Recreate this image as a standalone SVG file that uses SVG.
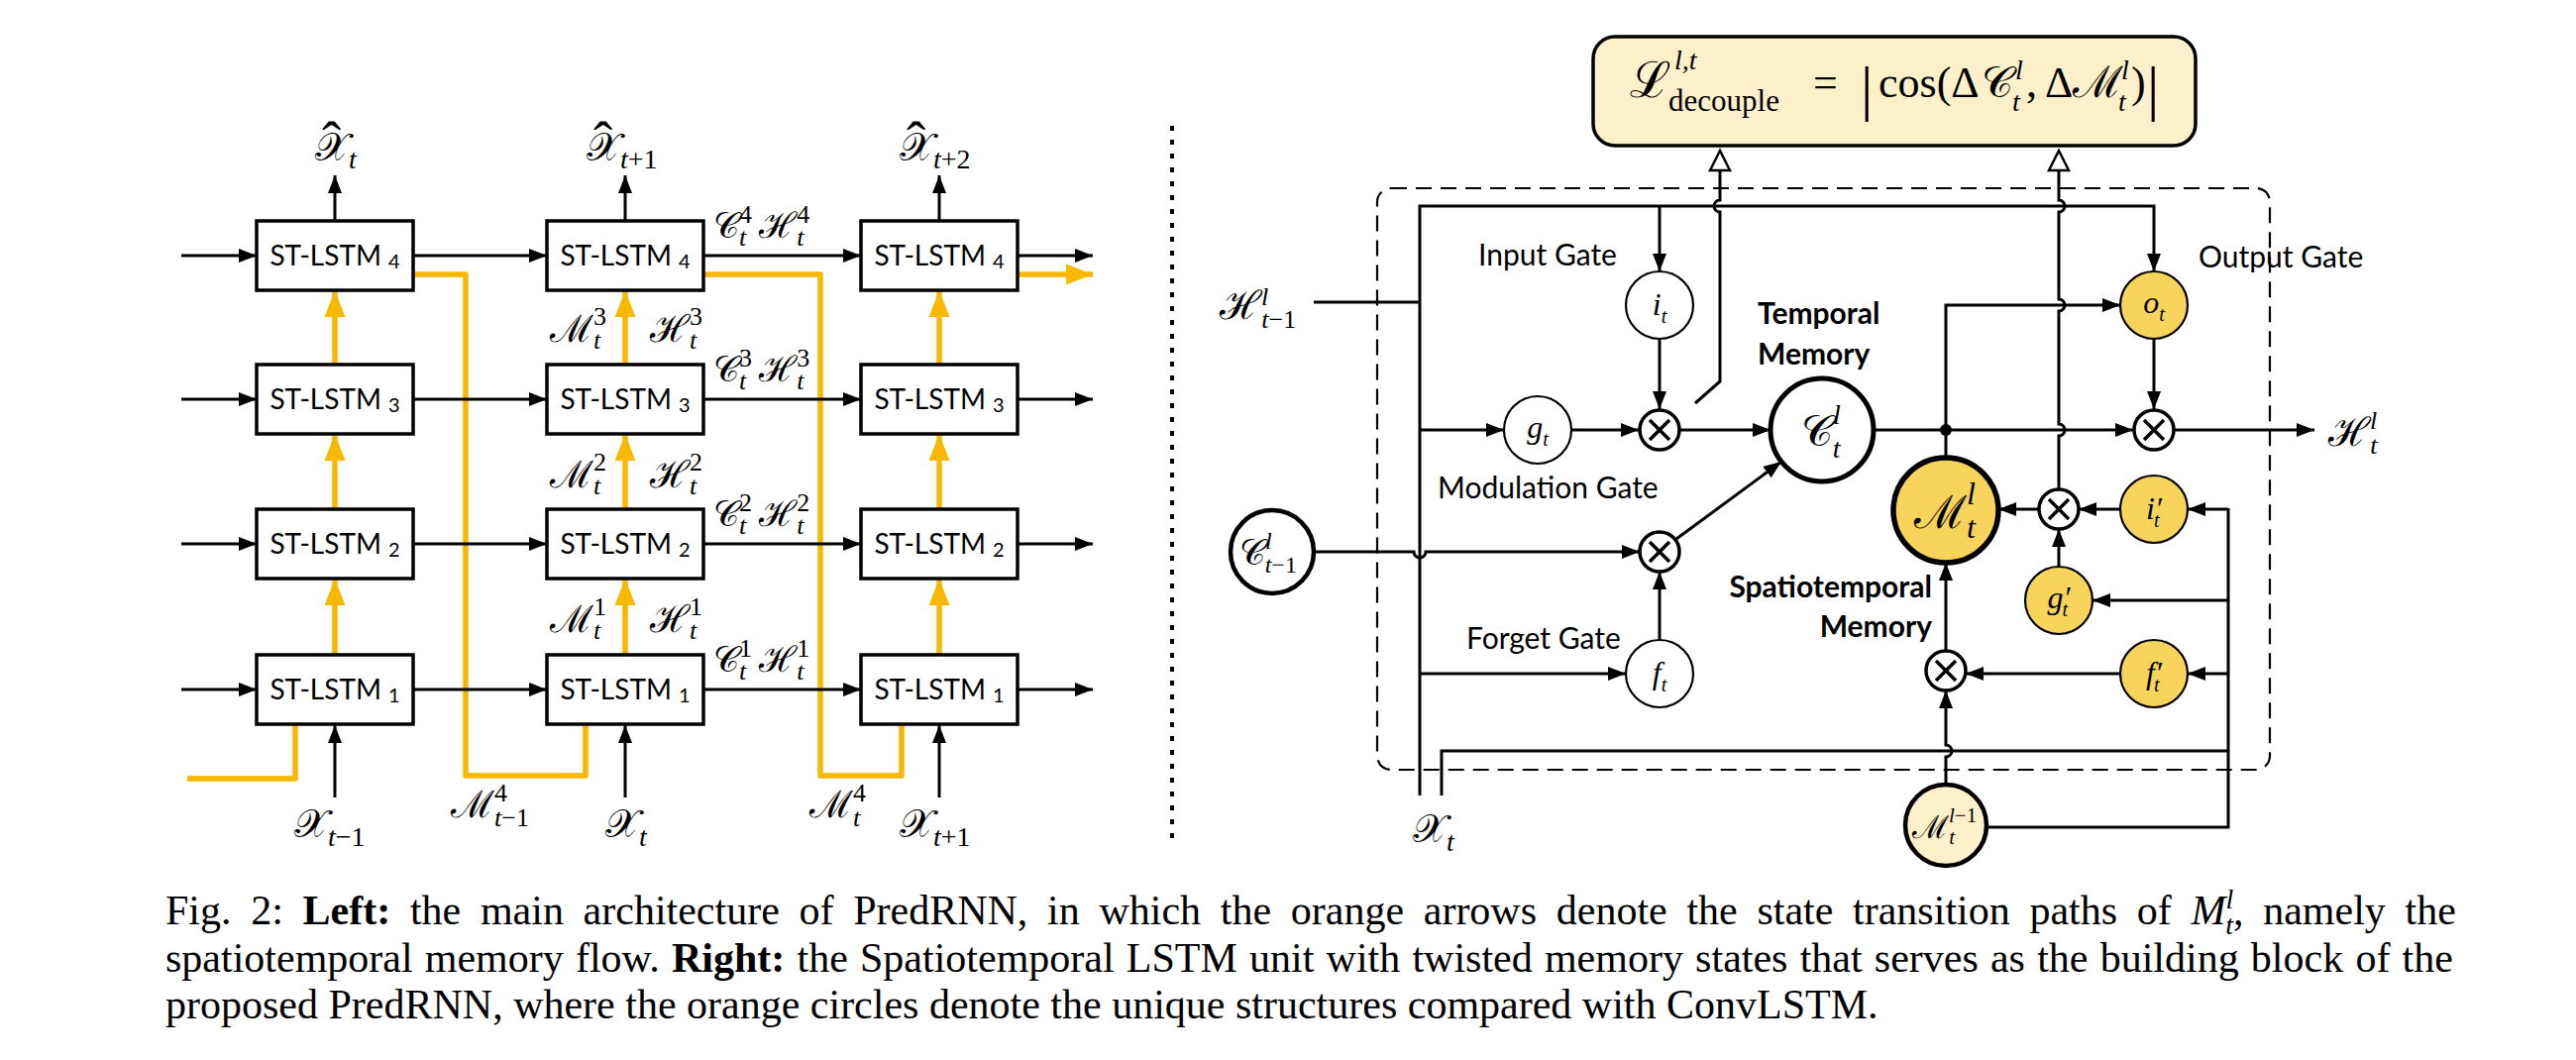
<svg xmlns="http://www.w3.org/2000/svg" width="2600" height="1070" viewBox="0 0 2600 1070">
<defs>
<style>
.box{fill:#fff;stroke:#000;stroke-width:3.5}
.bt{font-family:Lato,'Open Sans',sans-serif;font-size:28px;fill:#000}
.k{fill:none;stroke:#000;stroke-width:3}
.o{fill:none;stroke:#F6B800;stroke-width:5.5}
.m{font-family:'Liberation Serif','DejaVu Serif',serif;font-style:italic;fill:#000}
.r{font-style:normal}
.s{font-style:normal}
.lab{font-family:Lato,'Open Sans',sans-serif;font-size:30px;fill:#000}
.lb{font-family:Lato,'Open Sans',sans-serif;font-size:30px;font-weight:bold;fill:#000}
.g{fill:#fff;stroke:#000;stroke-width:2.2}
.y{fill:#F8D45C;stroke:#000;stroke-width:2.2}
.x{fill:#fff;stroke:#000;stroke-width:3.5}
.xl{stroke:#000;stroke-width:3.5}
.cap{font-family:'Liberation Serif',serif;font-size:42px;fill:#000}
</style>
<marker id="ab" markerUnits="userSpaceOnUse" markerWidth="20" markerHeight="16" refX="18" refY="7" orient="auto"><path d="M0,0 L18,7 L0,14 z" fill="#000"/></marker>
<marker id="ao" markerUnits="userSpaceOnUse" markerWidth="30" markerHeight="24" refX="27" refY="10.5" orient="auto"><path d="M0,0 L27,10.5 L0,21 z" fill="#F6B800"/></marker>
</defs>
<rect width="2600" height="1070" fill="#fff"/>

<g id="left-connectors">
<g id="orange-paths">
<path class="o" d="M338,661 V584" marker-end="url(#ao)"/>
<path class="o" d="M338,514 V438" marker-end="url(#ao)"/>
<path class="o" d="M338,368 V293" marker-end="url(#ao)"/>
<path class="o" d="M631,661 V584" marker-end="url(#ao)"/>
<path class="o" d="M631,514 V438" marker-end="url(#ao)"/>
<path class="o" d="M631,368 V293" marker-end="url(#ao)"/>
<path class="o" d="M948,661 V584" marker-end="url(#ao)"/>
<path class="o" d="M948,514 V438" marker-end="url(#ao)"/>
<path class="o" d="M948,368 V293" marker-end="url(#ao)"/>
<path class="o" d="M189,786 H298 V732" stroke-linejoin="round"/>
<path class="o" d="M416,277 H470 V783 H591 V732" stroke-linejoin="round"/>
<path class="o" d="M710,277 H828 V783 H910 V732" stroke-linejoin="round"/>
<path class="o" d="M1027,277 H1103" marker-end="url(#ao)"/>
</g>
<g id="black-arrows">
<path class="k" d="M183,258 H259" marker-end="url(#ab)"/>
<path class="k" d="M416,258 H552" marker-end="url(#ab)"/>
<path class="k" d="M710,258 H869" marker-end="url(#ab)"/>
<path class="k" d="M1027,258 H1103" marker-end="url(#ab)"/>
<path class="k" d="M183,403 H259" marker-end="url(#ab)"/>
<path class="k" d="M416,403 H552" marker-end="url(#ab)"/>
<path class="k" d="M710,403 H869" marker-end="url(#ab)"/>
<path class="k" d="M1027,403 H1103" marker-end="url(#ab)"/>
<path class="k" d="M183,549 H259" marker-end="url(#ab)"/>
<path class="k" d="M416,549 H552" marker-end="url(#ab)"/>
<path class="k" d="M710,549 H869" marker-end="url(#ab)"/>
<path class="k" d="M1027,549 H1103" marker-end="url(#ab)"/>
<path class="k" d="M183,696 H259" marker-end="url(#ab)"/>
<path class="k" d="M416,696 H552" marker-end="url(#ab)"/>
<path class="k" d="M710,696 H869" marker-end="url(#ab)"/>
<path class="k" d="M1027,696 H1103" marker-end="url(#ab)"/>
<path class="k" d="M338,223 V177" marker-end="url(#ab)"/>
<path class="k" d="M631,223 V177" marker-end="url(#ab)"/>
<path class="k" d="M948,223 V177" marker-end="url(#ab)"/>
<path class="k" d="M338,805 V732" marker-end="url(#ab)"/>
<path class="k" d="M631,805 V732" marker-end="url(#ab)"/>
<path class="k" d="M948,805 V732" marker-end="url(#ab)"/>
</g>
</g>

<g id="c1r4"><rect class="box" x="259" y="223" width="158" height="70"/><text class="bt" x="338" y="268" text-anchor="middle">ST-LSTM<tspan font-size="20" dx="7" dy="3">4</tspan></text></g>
<g id="c1r3"><rect class="box" x="259" y="368" width="158" height="70"/><text class="bt" x="338" y="413" text-anchor="middle">ST-LSTM<tspan font-size="20" dx="7" dy="3">3</tspan></text></g>
<g id="c1r2"><rect class="box" x="259" y="514" width="158" height="70"/><text class="bt" x="338" y="559" text-anchor="middle">ST-LSTM<tspan font-size="20" dx="7" dy="3">2</tspan></text></g>
<g id="c1r1"><rect class="box" x="259" y="661" width="158" height="70"/><text class="bt" x="338" y="706" text-anchor="middle">ST-LSTM<tspan font-size="20" dx="7" dy="3">1</tspan></text></g>
<g id="c2r4"><rect class="box" x="552" y="223" width="158" height="70"/><text class="bt" x="631" y="268" text-anchor="middle">ST-LSTM<tspan font-size="20" dx="7" dy="3">4</tspan></text></g>
<g id="c2r3"><rect class="box" x="552" y="368" width="158" height="70"/><text class="bt" x="631" y="413" text-anchor="middle">ST-LSTM<tspan font-size="20" dx="7" dy="3">3</tspan></text></g>
<g id="c2r2"><rect class="box" x="552" y="514" width="158" height="70"/><text class="bt" x="631" y="559" text-anchor="middle">ST-LSTM<tspan font-size="20" dx="7" dy="3">2</tspan></text></g>
<g id="c2r1"><rect class="box" x="552" y="661" width="158" height="70"/><text class="bt" x="631" y="706" text-anchor="middle">ST-LSTM<tspan font-size="20" dx="7" dy="3">1</tspan></text></g>
<g id="c3r4"><rect class="box" x="869" y="223" width="158" height="70"/><text class="bt" x="948" y="268" text-anchor="middle">ST-LSTM<tspan font-size="20" dx="7" dy="3">4</tspan></text></g>
<g id="c3r3"><rect class="box" x="869" y="368" width="158" height="70"/><text class="bt" x="948" y="413" text-anchor="middle">ST-LSTM<tspan font-size="20" dx="7" dy="3">3</tspan></text></g>
<g id="c3r2"><rect class="box" x="869" y="514" width="158" height="70"/><text class="bt" x="948" y="559" text-anchor="middle">ST-LSTM<tspan font-size="20" dx="7" dy="3">2</tspan></text></g>
<g id="c3r1"><rect class="box" x="869" y="661" width="158" height="70"/><text class="bt" x="948" y="706" text-anchor="middle">ST-LSTM<tspan font-size="20" dx="7" dy="3">1</tspan></text></g>

<g id="left-labels">
<text class="m" x="318" y="162" font-size="28"><tspan class="s" font-size="40">𝒳</tspan><tspan dy="8">t</tspan><tspan class="r" x="325" y="162" font-size="58">ˆ</tspan></text>
<text class="m" x="592" y="162" font-size="28"><tspan class="s" font-size="40">𝒳</tspan><tspan dy="8">t</tspan><tspan class="r">+1</tspan><tspan class="r" x="599" y="162" font-size="58">ˆ</tspan></text>
<text class="m" x="908" y="162" font-size="28"><tspan class="s" font-size="40">𝒳</tspan><tspan dy="8">t</tspan><tspan class="r">+2</tspan><tspan class="r" x="915" y="162" font-size="58">ˆ</tspan></text>

<text class="m" x="297" y="845" font-size="28"><tspan class="s" font-size="40">𝒳</tspan><tspan dy="9">t</tspan><tspan class="r">−1</tspan></text>
<text class="m" x="611" y="845" font-size="28"><tspan class="s" font-size="40">𝒳</tspan><tspan dy="9">t</tspan></text>
<text class="m" x="908" y="845" font-size="28"><tspan class="s" font-size="40">𝒳</tspan><tspan dy="9">t</tspan><tspan class="r">+1</tspan></text>
<text class="m" x="455" y="825" font-size="26"><tspan class="s" font-size="38">ℳ</tspan><tspan class="r" dy="-16">4</tspan><tspan dx="-13" dy="25">t</tspan><tspan class="r">−1</tspan></text>
<text class="m" x="817" y="825" font-size="26"><tspan class="s" font-size="38">ℳ</tspan><tspan class="r" dy="-16">4</tspan><tspan dx="-13" dy="25">t</tspan></text>

<text class="m" x="720" y="240" font-size="26"><tspan class="s" font-size="36">𝒞</tspan><tspan class="r" dy="-15">4</tspan><tspan dx="-13" dy="23">t</tspan><tspan class="s" font-size="36" dx="13" dy="-8">ℋ</tspan><tspan class="r" dy="-15">4</tspan><tspan dx="-13" dy="23">t</tspan></text>
<text class="m" x="720" y="385" font-size="26"><tspan class="s" font-size="36">𝒞</tspan><tspan class="r" dy="-15">3</tspan><tspan dx="-13" dy="23">t</tspan><tspan class="s" font-size="36" dx="13" dy="-8">ℋ</tspan><tspan class="r" dy="-15">3</tspan><tspan dx="-13" dy="23">t</tspan></text>
<text class="m" x="720" y="531" font-size="26"><tspan class="s" font-size="36">𝒞</tspan><tspan class="r" dy="-15">2</tspan><tspan dx="-13" dy="23">t</tspan><tspan class="s" font-size="36" dx="13" dy="-8">ℋ</tspan><tspan class="r" dy="-15">2</tspan><tspan dx="-13" dy="23">t</tspan></text>
<text class="m" x="720" y="678" font-size="26"><tspan class="s" font-size="36">𝒞</tspan><tspan class="r" dy="-15">1</tspan><tspan dx="-13" dy="23">t</tspan><tspan class="s" font-size="36" dx="13" dy="-8">ℋ</tspan><tspan class="r" dy="-15">1</tspan><tspan dx="-13" dy="23">t</tspan></text>

<text class="m" x="555" y="345" font-size="26"><tspan class="s" font-size="38">ℳ</tspan><tspan class="r" dy="-17">3</tspan><tspan dx="-13" dy="24">t</tspan></text>
<text class="m" x="656" y="345" font-size="26"><tspan class="s" font-size="38">ℋ</tspan><tspan class="r" dy="-17">3</tspan><tspan dx="-13" dy="24">t</tspan></text>
<text class="m" x="555" y="492" font-size="26"><tspan class="s" font-size="38">ℳ</tspan><tspan class="r" dy="-17">2</tspan><tspan dx="-13" dy="24">t</tspan></text>
<text class="m" x="656" y="492" font-size="26"><tspan class="s" font-size="38">ℋ</tspan><tspan class="r" dy="-17">2</tspan><tspan dx="-13" dy="24">t</tspan></text>
<text class="m" x="555" y="638" font-size="26"><tspan class="s" font-size="38">ℳ</tspan><tspan class="r" dy="-17">1</tspan><tspan dx="-13" dy="24">t</tspan></text>
<text class="m" x="656" y="638" font-size="26"><tspan class="s" font-size="38">ℋ</tspan><tspan class="r" dy="-17">1</tspan><tspan dx="-13" dy="24">t</tspan></text>
</g>

<line id="divider" x1="1183" y1="127" x2="1183" y2="847" stroke="#000" stroke-width="4" stroke-dasharray="5 9"/>

<g id="loss">
<rect x="1608" y="37" width="608" height="110" rx="22" fill="#FDF0CB" stroke="#000" stroke-width="3.5"/>
<text class="m" font-size="44"><tspan class="s" x="1645" y="98" font-size="50">ℒ</tspan><tspan x="1690" y="70" font-size="28">l,t</tspan><tspan class="r" x="1684" y="112" font-size="31">decouple</tspan><tspan class="r" x="1830" y="98">=</tspan><tspan class="r" x="1878" y="110" font-size="62">|</tspan><tspan class="r" x="1896" y="98">cos(Δ</tspan><tspan class="s" x="2000" y="98">𝒞</tspan><tspan x="2034" y="80" font-size="28">l</tspan><tspan x="2031" y="112" font-size="28">t</tspan><tspan class="r" x="2045" y="98">,</tspan><tspan class="r" x="2064" y="98">Δ</tspan><tspan class="s" x="2092" y="98">ℳ</tspan><tspan x="2141" y="80" font-size="28">l</tspan><tspan x="2138" y="112" font-size="28">t</tspan><tspan class="r" x="2151" y="98">)</tspan><tspan class="r" x="2167" y="110" font-size="62">|</tspan></text>
</g>

<rect id="cell-boundary" x="1390" y="190" width="901" height="587" rx="14" fill="none" stroke="#000" stroke-width="2.2" stroke-dasharray="16 9"/>

<g id="right-connectors">
<path class="k" d="M1326,305 H1433"/>
<path class="k" d="M1433,803 V208 H2174 V274" marker-end="url(#ab)"/>
<path class="k" d="M1675,208 V274" marker-end="url(#ab)"/>
<path class="k" d="M1433,434 H1518" marker-end="url(#ab)"/>
<path class="k" d="M1433,680 H1641" marker-end="url(#ab)"/>
<path class="k" d="M1675,342 V413" marker-end="url(#ab)"/>
<path class="k" d="M1586,434 H1654" marker-end="url(#ab)"/>
<path class="k" d="M1696,434 H1787" marker-end="url(#ab)"/>
<path class="k" d="M1711,407 L1736,385 V214 A6,6 0 0 1 1736,202 V172"/>
<path class="k" d="M2078,494 V440 A6,6 0 0 0 2078,428 V314 A6,6 0 0 0 2078,302 V214 A6,6 0 0 0 2078,202 V172"/>
<path class="k" d="M1891,434 H2153" marker-end="url(#ab)"/>
<path class="k" d="M1964,434 V308 H2140" marker-end="url(#ab)"/>
<path class="k" d="M1964,434 V462"/>
<path class="k" d="M2174,342 V413" marker-end="url(#ab)"/>
<path class="k" d="M2195,434 H2336" marker-end="url(#ab)"/>
<path class="k" d="M1964,657 V568" marker-end="url(#ab)"/>
<path class="k" d="M1964,792 V764 A6,6 0 0 0 1964,752 V697" marker-end="url(#ab)"/>
<path class="k" d="M1455,803 V758 H2249"/>
<path class="k" d="M2005,835 H2249 V513"/>
<path class="k" d="M2249,514 H2208" marker-end="url(#ab)"/>
<path class="k" d="M2249,606 H2112" marker-end="url(#ab)"/>
<path class="k" d="M2249,680 H2208" marker-end="url(#ab)"/>
<path class="k" d="M2140,514 H2098" marker-end="url(#ab)"/>
<path class="k" d="M2058,514 H2017" marker-end="url(#ab)"/>
<path class="k" d="M2078,572 V534" marker-end="url(#ab)"/>
<path class="k" d="M2140,680 H1984" marker-end="url(#ab)"/>
<path class="k" d="M1675,646 V577" marker-end="url(#ab)"/>
<path class="k" d="M1692,544 L1798,466" marker-end="url(#ab)"/>
<path class="k" d="M1326,557 H1427 A6,6 0 0 0 1439,557 H1655" marker-end="url(#ab)"/>
<circle cx="1964" cy="434" r="6" fill="#000"/>
<path d="M1726,172 L1736,152 L1746,172 Z" fill="#fff" stroke="#000" stroke-width="2.5"/>
<path d="M2068,172 L2078,152 L2088,172 Z" fill="#fff" stroke="#000" stroke-width="2.5"/>
</g>

<g id="gate-labels">
<text class="lab" x="1492" y="268">Input Gate</text>
<text class="lab" x="1451" y="503">Modulation Gate</text>
<text class="lab" x="1480" y="655">Forget Gate</text>
<text class="lab" x="2219" y="270">Output Gate</text>
<text class="lb" x="1774" y="327">Temporal</text>
<text class="lb" x="1774" y="368">Memory</text>
<text class="lb" x="1950" y="603" text-anchor="end">Spatiotemporal</text>
<text class="lb" x="1950" y="643" text-anchor="end">Memory</text>
</g>

<g id="in-H"><text class="m" x="1231" y="322" font-size="26"><tspan class="s" font-size="40">ℋ</tspan><tspan dy="-14">l</tspan><tspan dx="-7" dy="23">t</tspan><tspan class="r">−1</tspan></text></g>
<g id="in-X"><text class="m" x="1426" y="850" font-size="28"><tspan class="s" font-size="40">𝒳</tspan><tspan dy="9">t</tspan></text></g>
<g id="out-H"><text class="m" x="2350" y="450" font-size="26"><tspan class="s" font-size="40">ℋ</tspan><tspan dy="-17">l</tspan><tspan dx="-7" dy="25">t</tspan></text></g>

<g id="i_t"><circle class="g" cx="1675" cy="308" r="34"/><text class="m" x="1675" y="318" font-size="32" text-anchor="middle">i<tspan font-size="20" dy="8">t</tspan></text></g>
<g id="g_t"><circle class="g" cx="1552" cy="434" r="34"/><text class="m" x="1552" y="442" font-size="32" text-anchor="middle">g<tspan font-size="20" dy="8">t</tspan></text></g>
<g id="f_t"><circle class="g" cx="1675" cy="680" r="34"/><text class="m" x="1675" y="690" font-size="32" text-anchor="middle">f<tspan font-size="20" dy="8">t</tspan></text></g>
<g id="o_t"><circle class="y" cx="2174" cy="308" r="34"/><text class="m" x="2174" y="316" font-size="32" text-anchor="middle">o<tspan font-size="20" dy="8">t</tspan></text></g>
<g id="i2_t"><circle class="y" cx="2174" cy="514" r="34"/><text class="m" x="2174" y="524" font-size="32" text-anchor="middle">i′<tspan font-size="20" dx="-8" dy="8">t</tspan></text></g>
<g id="g2_t"><circle class="y" cx="2078" cy="606" r="34"/><text class="m" x="2078" y="614" font-size="32" text-anchor="middle">g′<tspan font-size="20" dx="-8" dy="8">t</tspan></text></g>
<g id="f2_t"><circle class="y" cx="2174" cy="680" r="34"/><text class="m" x="2174" y="690" font-size="32" text-anchor="middle">f′<tspan font-size="20" dx="-8" dy="8">t</tspan></text></g>

<g id="mul-in"><circle class="x" cx="1675" cy="434" r="20"/><path class="xl" d="M1665,424 L1685,444 M1685,424 L1665,444"/></g>
<g id="mul-forget"><circle class="x" cx="1675" cy="557" r="20"/><path class="xl" d="M1665,547 L1685,567 M1685,547 L1665,567"/></g>
<g id="mul-out"><circle class="x" cx="2174" cy="434" r="20"/><path class="xl" d="M2164,424 L2184,444 M2184,424 L2164,444"/></g>
<g id="mul-st-in"><circle class="x" cx="2078" cy="514" r="20"/><path class="xl" d="M2068,504 L2088,524 M2088,504 L2068,524"/></g>
<g id="mul-st-forget"><circle class="x" cx="1964" cy="677" r="20"/><path class="xl" d="M1954,667 L1974,687 M1974,667 L1954,687"/></g>

<g id="C_t"><circle cx="1839" cy="434" r="52" fill="#fff" stroke="#000" stroke-width="5"/><text class="m" x="1818" y="450" font-size="28"><tspan class="s" font-size="44">𝒞</tspan><tspan dy="-22">l</tspan><tspan dx="-8" dy="34">t</tspan></text></g>
<g id="M_t"><circle cx="1964" cy="515" r="53" fill="#F8D45C" stroke="#000" stroke-width="5.5"/><text class="m" x="1932" y="533" font-size="32"><tspan class="s" font-size="46">ℳ</tspan><tspan dy="-24">l</tspan><tspan dx="-9" dy="34">t</tspan></text></g>
<g id="C_prev"><circle cx="1284" cy="557" r="42" fill="#fff" stroke="#000" stroke-width="4.5"/><text class="m" x="1251" y="570" font-size="24"><tspan class="s" font-size="36">𝒞</tspan><tspan dy="-16">l</tspan><tspan dx="-7" dy="24">t</tspan><tspan class="r">−1</tspan></text></g>
<g id="M_prev"><circle cx="1964" cy="833" r="41" fill="#FDF0CB" stroke="#000" stroke-width="4.5"/><text class="m" x="1930" y="846" font-size="21"><tspan class="s" font-size="32">ℳ</tspan><tspan dy="-16">l</tspan><tspan class="r">−1</tspan><tspan dx="-28" dy="22">t</tspan></text></g>

<g id="caption">
<text class="cap" x="167" y="933" word-spacing="9.2">Fig. 2: <tspan font-weight="bold">Left:</tspan> the main architecture of PredRNN, in which the orange arrows denote the state transition paths of <tspan font-style="italic">M</tspan><tspan font-style="italic" font-size="28" dy="-16">l</tspan><tspan font-style="italic" font-size="28" dx="-8" dy="26">t</tspan><tspan dy="-10">, namely the</tspan></text>
<text class="cap" x="167" y="981" word-spacing="1.7">spatiotemporal memory flow. <tspan font-weight="bold">Right:</tspan> the Spatiotemporal LSTM unit with twisted memory states that serves as the building block of the</text>
<text class="cap" x="167" y="1028">proposed PredRNN, where the orange circles denote the unique structures compared with ConvLSTM.</text>
</g>
</svg>
